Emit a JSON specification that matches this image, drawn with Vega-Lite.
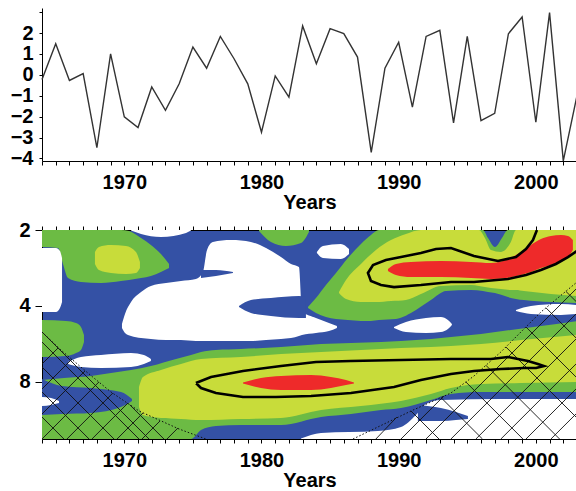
{
"$schema": "https://vega.github.io/schema/vega-lite/v6.json",
"padding": {"left": 10, "top": 2, "right": 0, "bottom": 0},
"background": "white",
"spacing": 8,
"config": {
  "font": "Liberation Sans",
  "view": {"stroke": null},
  "axis": {"labelFont": "Liberation Sans", "labelFontSize": 20, "labelFontWeight": "bold", "labelColor": "black", "titleFont": "Liberation Sans", "titleFontSize": 20, "titleFontWeight": "bold", "titleColor": "black", "domainColor": "black", "tickColor": "black", "grid": false, "labelOverlap": false, "labelFlush": false}
},
"datasets": {
  "series": [
    {"year":1964,"value":-0.22},{"year":1965,"value":1.49},{"year":1966,"value":-0.27},{"year":1967,"value":0.06},{"year":1968,"value":-3.49},
    {"year":1969,"value":1.0},{"year":1970,"value":-2.01},{"year":1971,"value":-2.52},{"year":1972,"value":-0.58},{"year":1973,"value":-1.7},
    {"year":1974,"value":-0.43},{"year":1975,"value":1.33},{"year":1976,"value":0.32},{"year":1977,"value":1.84},{"year":1978,"value":0.77},
    {"year":1979,"value":-0.43},{"year":1980,"value":-2.75},{"year":1981,"value":-0.05},{"year":1982,"value":-1.07},{"year":1983,"value":2.34},
    {"year":1984,"value":0.53},{"year":1985,"value":2.21},{"year":1986,"value":1.97},{"year":1987,"value":0.85},{"year":1988,"value":-3.71},
    {"year":1989,"value":0.32},{"year":1990,"value":1.56},{"year":1991,"value":-1.55},{"year":1992,"value":1.84},{"year":1993,"value":2.13},
    {"year":1994,"value":-2.3},{"year":1995,"value":1.84},{"year":1996,"value":-2.19},{"year":1997,"value":-1.84},{"year":1998,"value":1.97},
    {"year":1999,"value":2.77},{"year":2000,"value":-2.27},{"year":2001,"value":2.98},{"year":2002,"value":-4.12},{"year":2003,"value":-0.99}
  ],
  "green": [
    {"id":"g1","x":1964.00,"t":2,"b":2.335},{"id":"g1","x":1965.17,"t":2,"b":2.357},{"id":"g1","x":1965.53,"t":2,"b":2.727},{"id":"g1","x":1965.90,"t":2,"b":3.100},{"id":"g1","x":1966.84,"t":2,"b":3.215},{"id":"g1","x":1968.30,"t":2,"b":3.245},{"id":"g1","x":1969.76,"t":2,"b":3.186},{"id":"g1","x":1970.34,"t":2.018,"b":3.157},{"id":"g1","x":1971.22,"t":2.151,"b":3.100},{"id":"g1","x":1971.94,"t":2.293,"b":3.044},{"id":"g1","x":1972.67,"t":2.489,"b":2.934},{"id":"g1","x":1973.26,"t":2.727,"b":2.829},
    {"id":"g2","x":1979.82,"t":2,"b":2.018},{"id":"g2","x":1980.69,"t":2,"b":2.231},{"id":"g2","x":1981.78,"t":2,"b":2.314},{"id":"g2","x":1982.88,"t":2,"b":2.252},{"id":"g2","x":1983.46,"t":2,"b":2.037},
    {"id":"g3","x":1983.39,"t":4.041,"b":4.078},{"id":"g3","x":1983.97,"t":3.722,"b":4.264},{"id":"g3","x":1984.70,"t":3.305,"b":4.422},{"id":"g3","x":1985.43,"t":2.961,"b":4.504},{"id":"g3","x":1986.30,"t":2.582,"b":4.545},{"id":"g3","x":1987.25,"t":2.272,"b":4.586},{"id":"g3","x":1987.98,"t":2.093,"b":4.586},{"id":"g3","x":1988.56,"t":2,"b":4.545},{"id":"g3","x":1989.80,"t":2,"b":4.504},{"id":"g3","x":1991.26,"t":2,"b":4.149},{"id":"g3","x":1992.35,"t":2,"b":3.790},{"id":"g3","x":1993.45,"t":2,"b":3.491},{"id":"g3","x":1995.27,"t":2,"b":3.459},{"id":"g3","x":1996.14,"t":2,"b":3.491},{"id":"g3","x":1996.51,"t":2.151,"b":3.523},{"id":"g3","x":1997.02,"t":2.335,"b":3.555},{"id":"g3","x":1997.53,"t":2.151,"b":3.621},{"id":"g3","x":1997.96,"t":2,"b":3.688},{"id":"g3","x":1999.13,"t":2,"b":3.790},{"id":"g3","x":2001.10,"t":2,"b":3.860},{"id":"g3","x":2003.00,"t":2,"b":3.896},
    {"id":"g4","x":1964.00,"t":7.855,"b":13.455},{"id":"g4","x":1965.60,"t":7.713,"b":13.455},{"id":"g4","x":1967.57,"t":7.574,"b":13.455},{"id":"g4","x":1969.03,"t":7.370,"b":13.455},{"id":"g4","x":1970.49,"t":7.171,"b":13.455},{"id":"g4","x":1971.94,"t":6.914,"b":13.455},{"id":"g4","x":1973.77,"t":6.486,"b":13.455},{"id":"g4","x":1974.86,"t":6.253,"b":13.455},{"id":"g4","x":1975.59,"t":6.085,"b":12.394},{"id":"g4","x":1976.68,"t":5.975,"b":11.950},{"id":"g4","x":1978.50,"t":5.921,"b":11.842},{"id":"g4","x":1981.42,"t":5.814,"b":11.842},{"id":"g4","x":1984.34,"t":5.657,"b":11.009},{"id":"g4","x":1986.52,"t":5.607,"b":10.712},{"id":"g4","x":1988.71,"t":5.556,"b":10.328},{"id":"g4","x":1990.17,"t":5.506,"b":10.142},{"id":"g4","x":1992.35,"t":5.406,"b":9.427},{"id":"g4","x":1993.81,"t":5.308,"b":8.925},{"id":"g4","x":1996.00,"t":5.164,"b":8.764},{"id":"g4","x":1998.18,"t":4.979,"b":8.764},{"id":"g4","x":2000.37,"t":4.800,"b":8.764},{"id":"g4","x":2003.00,"t":4.586,"b":8.764},
    {"id":"g5","x":1964.00,"t":4.545,"b":6.368},{"id":"g5","x":1965.75,"t":4.586,"b":6.311},{"id":"g5","x":1966.48,"t":4.671,"b":6.140},{"id":"g5","x":1966.84,"t":4.845,"b":5.975},{"id":"g5","x":1967.06,"t":5.212,"b":5.556}
  ],
  "yellow": [
    {"id":"y1","x":1967.86,"t":2.444,"b":2.727},{"id":"y1","x":1968.15,"t":2.335,"b":2.881},{"id":"y1","x":1969.03,"t":2.293,"b":2.961},{"id":"y1","x":1970.12,"t":2.314,"b":2.989},{"id":"y1","x":1970.85,"t":2.444,"b":2.961},{"id":"y1","x":1971.14,"t":2.678,"b":2.829},
    {"id":"y3","x":1985.65,"t":3.523,"b":3.555},{"id":"y3","x":1986.16,"t":3.157,"b":3.756},{"id":"y3","x":1987.25,"t":2.727,"b":3.860},{"id":"y3","x":1988.34,"t":2.400,"b":3.860},{"id":"y3","x":1989.44,"t":2.191,"b":3.825},{"id":"y3","x":1990.53,"t":2.074,"b":3.790},{"id":"y3","x":1991.62,"t":2,"b":3.588},{"id":"y3","x":1993.08,"t":2,"b":3.335},{"id":"y3","x":1995.27,"t":2,"b":3.305},{"id":"y3","x":1995.85,"t":2,"b":3.335},{"id":"y3","x":1996.29,"t":2.151,"b":3.366},{"id":"y3","x":1996.73,"t":2.400,"b":3.396},{"id":"y3","x":1997.45,"t":2.444,"b":3.428},{"id":"y3","x":1998.18,"t":2.231,"b":3.459},{"id":"y3","x":1998.55,"t":2,"b":3.459},{"id":"y3","x":1999.13,"t":2,"b":3.491},{"id":"y3","x":2001.10,"t":2,"b":3.588},{"id":"y3","x":2003.00,"t":2,"b":3.654},
    {"id":"y4","x":1971.07,"t":8.373,"b":10.050},{"id":"y4","x":1971.36,"t":7.643,"b":10.810},{"id":"y4","x":1972.67,"t":7.171,"b":11.110},{"id":"y4","x":1974.13,"t":6.789,"b":11.211},{"id":"y4","x":1975.59,"t":6.486,"b":11.314},{"id":"y4","x":1978.50,"t":6.368,"b":11.211},{"id":"y4","x":1981.42,"t":6.197,"b":11.110},{"id":"y4","x":1984.34,"t":6.085,"b":10.328},{"id":"y4","x":1987.25,"t":5.975,"b":9.958},{"id":"y4","x":1990.17,"t":5.867,"b":9.514},{"id":"y4","x":1992.35,"t":5.814,"b":8.925},{"id":"y4","x":1993.81,"t":5.761,"b":8.450},{"id":"y4","x":1996.00,"t":5.657,"b":8.147},{"id":"y4","x":1998.91,"t":5.456,"b":8.073},{"id":"y4","x":2003.00,"t":5.212,"b":8.000}
  ],
  "red": [
    {"id":"r3","x":1989.22,"t":2.855,"b":2.908},{"id":"r3","x":1989.80,"t":2.727,"b":3.016},{"id":"r3","x":1990.90,"t":2.678,"b":3.072},{"id":"r3","x":1993.08,"t":2.654,"b":3.072},{"id":"r3","x":1995.27,"t":2.678,"b":3.100},{"id":"r3","x":1996.73,"t":2.703,"b":3.128},{"id":"r3","x":1997.82,"t":2.630,"b":3.100},{"id":"r3","x":1998.91,"t":2.444,"b":3.016},{"id":"r3","x":1999.64,"t":2.293,"b":2.934},{"id":"r3","x":2000.37,"t":2.171,"b":2.829},{"id":"r3","x":2001.10,"t":2.113,"b":2.752},{"id":"r3","x":2001.83,"t":2.093,"b":2.654},{"id":"r3","x":2002.34,"t":2.113,"b":2.559},{"id":"r3","x":2002.70,"t":2.191,"b":2.400},
    {"id":"r4","x":1978.65,"t":8.04,"b":8.11},{"id":"r4","x":1979.96,"t":7.713,"b":8.450},{"id":"r4","x":1981.42,"t":7.574,"b":8.605},{"id":"r4","x":1983.61,"t":7.505,"b":8.605},{"id":"r4","x":1985.06,"t":7.643,"b":8.450},{"id":"r4","x":1986.16,"t":7.855,"b":8.222},{"id":"r4","x":1986.74,"t":8.04,"b":8.11}
  ],
  "blueover": [
    {"id":"b1","x":1964.00,"t":7.784,"b":10.810},{"id":"b1","x":1965.46,"t":8.297,"b":10.712},{"id":"b1","x":1967.57,"t":8.450,"b":10.614},{"id":"b1","x":1969.76,"t":8.764,"b":10.050},{"id":"b1","x":1970.56,"t":9.341,"b":9.514}
  ],
  "white": [
    {"id":"w1","x":1964.00,"t":2.357,"b":4.225},{"id":"w1","x":1965.02,"t":2.357,"b":4.225},{"id":"w1","x":1965.31,"t":2.422,"b":4.078},{"id":"w1","x":1965.46,"t":2.582,"b":3.860},
    {"id":"w2","x":1970.49,"t":2,"b":2.01},{"id":"w2","x":1971.22,"t":2,"b":2.074},{"id":"w2","x":1972.67,"t":2,"b":2.132},{"id":"w2","x":1974.50,"t":2,"b":2.055},{"id":"w2","x":1974.86,"t":2,"b":2.01},
    {"id":"w3","x":1969.83,"t":4.714,"b":4.889},{"id":"w3","x":1970.05,"t":4.303,"b":5.117},{"id":"w3","x":1970.49,"t":3.860,"b":5.260},{"id":"w3","x":1971.22,"t":3.523,"b":5.357},{"id":"w3","x":1971.94,"t":3.335,"b":5.406},{"id":"w3","x":1973.04,"t":3.245,"b":5.456},{"id":"w3","x":1974.13,"t":3.186,"b":5.456},{"id":"w3","x":1975.22,"t":3.128,"b":5.506},{"id":"w3","x":1975.73,"t":2.934,"b":5.506},{"id":"w3","x":1976.03,"t":2.400,"b":5.506},{"id":"w3","x":1976.46,"t":2.231,"b":5.506},{"id":"w3","x":1977.78,"t":2.191,"b":5.506},{"id":"w3","x":1979.23,"t":2.231,"b":5.506},{"id":"w3","x":1980.33,"t":2.357,"b":5.456},{"id":"w3","x":1981.42,"t":2.559,"b":5.406},{"id":"w3","x":1982.15,"t":2.727,"b":5.357},{"id":"w3","x":1982.73,"t":2.803,"b":5.260},{"id":"w3","x":1982.95,"t":4.200,"b":5.212},{"id":"w3","x":1983.97,"t":4.463,"b":5.117},{"id":"w3","x":1984.92,"t":4.671,"b":5.025},{"id":"w3","x":1985.50,"t":4.800,"b":4.889},
    {"id":"w4","x":1984.04,"t":2.444,"b":2.467},{"id":"w4","x":1984.48,"t":2.314,"b":2.582},{"id":"w4","x":1985.79,"t":2.272,"b":2.606},{"id":"w4","x":1986.38,"t":2.379,"b":2.489},
    {"id":"w5","x":1989.66,"t":4.845,"b":4.889},{"id":"w5","x":1990.53,"t":4.628,"b":5.071},{"id":"w5","x":1991.99,"t":4.463,"b":5.117},{"id":"w5","x":1993.08,"t":4.422,"b":5.071},{"id":"w5","x":1993.59,"t":4.545,"b":4.934},{"id":"w5","x":1993.88,"t":4.714,"b":4.757},
    {"id":"w6","x":1998.55,"t":4.149,"b":4.187},{"id":"w6","x":1999.64,"t":4.000,"b":4.303},{"id":"w6","x":2001.83,"t":3.932,"b":4.342},{"id":"w6","x":2003.00,"t":3.968,"b":4.303},
    {"id":"w7","x":1965.90,"t":6.666,"b":6.789},{"id":"w7","x":1966.84,"t":6.368,"b":6.977},{"id":"w7","x":1968.30,"t":6.253,"b":7.041},{"id":"w7","x":1970.49,"t":6.140,"b":6.977},{"id":"w7","x":1971.43,"t":6.253,"b":6.789},{"id":"w7","x":1971.94,"t":6.486,"b":6.605},
    {"id":"w8","x":1964.00,"t":9.173,"b":9.958},{"id":"w8","x":1964.66,"t":9.257,"b":9.868},{"id":"w8","x":1965.24,"t":9.514,"b":9.689},
    {"id":"w9","x":1982.88,"t":13.39,"b":13.455},{"id":"w9","x":1984.34,"t":12.738,"b":13.455},{"id":"w9","x":1988.49,"t":12.508,"b":13.455},{"id":"w9","x":1990.17,"t":12.060,"b":13.455},{"id":"w9","x":1991.26,"t":10.810,"b":13.455},{"id":"w9","x":1991.99,"t":9.778,"b":13.455},{"id":"w9","x":1993.08,"t":9.427,"b":13.455},{"id":"w9","x":1997.45,"t":9.341,"b":13.455},{"id":"w9","x":2003.00,"t":9.341,"b":13.455}
  ],
  "bluetop": [
    {"id":"t1","x":1978.36,"t":4.004,"b":4.041},{"id":"t1","x":1979.23,"t":3.790,"b":4.264},{"id":"t1","x":1980.69,"t":3.722,"b":4.382},{"id":"t1","x":1982.73,"t":3.654,"b":4.463},{"id":"t1","x":1983.24,"t":3.688,"b":4.463},
    {"id":"t2","x":1975.59,"t":2.881,"b":3.100},{"id":"t2","x":1976.68,"t":2.881,"b":3.044},{"id":"t2","x":1977.92,"t":2.934,"b":2.961},
    {"id":"t3","x":1991.40,"t":9.868,"b":11.418},{"id":"t3","x":1993.08,"t":10.142,"b":11.418},{"id":"t3","x":1994.17,"t":10.518,"b":11.314},{"id":"t3","x":1995.05,"t":10.909,"b":11.211}
  ],
  "hatch": [
    {"x":1964.00,"t":5.556,"x2":1971.07,"b":13.455},{"x":1964.00,"t":6.977,"x2":1969.25,"b":13.455},{"x":1964.00,"t":8.764,"x2":1967.43,"b":13.455},{"x":1964.00,"t":11.009,"x2":1965.60,"b":13.455},{"x":1964.00,"t":5.071,"x2":1971.80,"b":13.455},{"x":1970.39,"t":9.84,"x2":1972.89,"b":13.455},
    {"x":1964.00,"t":13.455,"x2":1968.15,"b":8.000},{"x":1965.82,"t":13.455,"x2":1969.17,"b":8.844},{"x":1967.64,"t":13.455,"x2":1970.27,"b":9.689},{"x":1969.47,"t":13.455,"x2":1971.36,"b":10.614},{"x":1971.29,"t":13.455,"x2":1972.60,"b":11.418},{"x":1973.11,"t":13.455,"x2":1973.91,"b":12.170},{"x":1964.00,"t":10.712,"x2":1967.13,"b":7.236},{"x":1964.00,"t":8.527,"x2":1966.19,"b":6.486},{"x":1964.00,"t":6.789,"x2":1965.17,"b":5.867},
    {"x":1988.34,"t":13.455,"x2":1989.87,"b":11.009},{"x":1990.17,"t":13.455,"x2":1993.30,"b":9.089},{"x":1991.99,"t":13.455,"x2":2003.00,"b":3.396},{"x":1993.81,"t":13.455,"x2":2003.00,"b":4.264},{"x":1995.63,"t":13.455,"x2":2003.00,"b":5.357},{"x":1997.45,"t":13.455,"x2":2003.00,"b":6.727},{"x":1999.28,"t":13.455,"x2":2003.00,"b":8.450},{"x":2001.10,"t":13.455,"x2":2003.00,"b":10.614},
    {"x":1990.90,"t":10.423,"x2":1992.94,"b":13.455},{"x":1993.08,"t":9.215,"x2":1996.11,"b":13.455},{"x":1994.90,"t":8.000,"x2":1999.06,"b":13.455},{"x":1996.36,"t":6.87,"x2":2001.73,"b":13.455},{"x":1997.82,"t":5.814,"x2":2003.00,"b":11.110},{"x":1999.28,"t":4.845,"x2":2003.00,"b":7.713},{"x":2000.74,"t":4.07,"x2":2003.00,"b":5.40},{"x":2002.19,"t":3.50,"x2":2003.00,"b":3.87}
  ],
  "coi": [
    {"id":"l","o":1,"x":1964.00,"t":5.071},{"id":"l","o":2,"x":1965.38,"t":5.975},{"id":"l","o":3,"x":1967.43,"t":7.437},{"id":"l","o":4,"x":1969.03,"t":8.764},{"id":"l","o":5,"x":1971.07,"t":10.423},{"id":"l","o":6,"x":1973.99,"t":12.282},{"id":"l","o":7,"x":1975.95,"t":13.455},
    {"id":"r","o":1,"x":1986.67,"t":13.455},{"id":"r","o":2,"x":1990.90,"t":10.423},{"id":"r","o":3,"x":1993.81,"t":8.844},{"id":"r","o":4,"x":1995.49,"t":7.574},{"id":"r","o":5,"x":1997.45,"t":6.085},{"id":"r","o":6,"x":2000.37,"t":4.225},{"id":"r","o":7,"x":2003.00,"t":3.215}
  ],
  "contour": [
    {"id":"c1","o":1,"x":2000.08,"t":2.000},{"id":"c1","o":2,"x":1999.79,"t":2.191},{"id":"c1","o":3,"x":1999.28,"t":2.379},{"id":"c1","o":4,"x":1998.55,"t":2.559},{"id":"c1","o":5,"x":1997.24,"t":2.654},{"id":"c1","o":6,"x":1995.49,"t":2.535},{"id":"c1","o":7,"x":1993.81,"t":2.357},{"id":"c1","o":8,"x":1992.72,"t":2.379},{"id":"c1","o":9,"x":1991.62,"t":2.467},{"id":"c1","o":10,"x":1990.17,"t":2.559},{"id":"c1","o":11,"x":1989.07,"t":2.630},{"id":"c1","o":12,"x":1988.13,"t":2.752},{"id":"c1","o":13,"x":1987.76,"t":2.961},{"id":"c1","o":14,"x":1987.98,"t":3.186},{"id":"c1","o":15,"x":1988.71,"t":3.305},{"id":"c1","o":16,"x":1989.66,"t":3.366},{"id":"c1","o":17,"x":1991.62,"t":3.305},{"id":"c1","o":18,"x":1993.81,"t":3.215},{"id":"c1","o":19,"x":1995.49,"t":3.215},{"id":"c1","o":20,"x":1997.96,"t":3.128},{"id":"c1","o":21,"x":1999.28,"t":3.016},{"id":"c1","o":22,"x":2000.37,"t":2.881},{"id":"c1","o":23,"x":2001.46,"t":2.727},{"id":"c1","o":24,"x":2002.34,"t":2.559},{"id":"c1","o":25,"x":2003.00,"t":2.422},
    {"id":"c2","o":1,"x":1975.22,"t":8.073},{"id":"c2","o":2,"x":1976.32,"t":7.643},{"id":"c2","o":3,"x":1978.65,"t":7.236},{"id":"c2","o":4,"x":1981.42,"t":6.914},{"id":"c2","o":5,"x":1983.97,"t":6.666},{"id":"c2","o":6,"x":1986.52,"t":6.605},{"id":"c2","o":7,"x":1990.17,"t":6.545},{"id":"c2","o":8,"x":1993.81,"t":6.486},{"id":"c2","o":9,"x":1996.73,"t":6.486},{"id":"c2","o":10,"x":1997.96,"t":6.368},{"id":"c2","o":11,"x":1999.42,"t":6.605},{"id":"c2","o":12,"x":2000.15,"t":6.789},{"id":"c2","o":13,"x":2000.59,"t":6.914},{"id":"c2","o":14,"x":2000.01,"t":7.041},{"id":"c2","o":15,"x":1999.13,"t":7.041},{"id":"c2","o":16,"x":1997.45,"t":7.106},{"id":"c2","o":17,"x":1995.49,"t":7.236},{"id":"c2","o":18,"x":1993.81,"t":7.437},{"id":"c2","o":19,"x":1991.62,"t":7.855},{"id":"c2","o":20,"x":1989.66,"t":8.373},{"id":"c2","o":21,"x":1986.52,"t":8.844},{"id":"c2","o":22,"x":1983.61,"t":9.089},{"id":"c2","o":23,"x":1981.06,"t":9.173},{"id":"c2","o":24,"x":1978.65,"t":9.173},{"id":"c2","o":25,"x":1976.68,"t":8.844},{"id":"c2","o":26,"x":1975.59,"t":8.450},{"id":"c2","o":27,"x":1975.22,"t":8.073}
  ]
},
"vconcat": [
  {
    "width": 535, "height": 153,
    "view": {"stroke": null},
    "data": {"name": "series"},
    "mark": {"type": "line", "color": "#333333", "strokeWidth": 1.4},
    "encoding": {
      "x": {"field": "year", "type": "quantitative", "scale": {"domain": [1964, 2003], "nice": false, "zero": false},
        "axis": {"values": [1964,1965,1966,1967,1968,1969,1970,1971,1972,1973,1974,1975,1976,1977,1978,1979,1980,1981,1982,1983,1984,1985,1986,1987,1988,1989,1990,1991,1992,1993,1994,1995,1996,1997,1998,1999,2000,2001,2002,2003], "format": "d", "labelExpr": "datum.value % 10 == 0 ? datum.label : ''", "tickSize": 4, "labelPadding": 7, "title": "Years", "titlePadding": 0}},
      "y": {"field": "value", "type": "quantitative", "scale": {"domain": [-4.125, 3.2], "nice": false, "zero": false},
        "axis": {"values": [-4,-3.5,-3,-2.5,-2,-1.5,-1,-0.5,0,0.5,1,1.5,2,2.5,3], "format": "d", "labelExpr": "(datum.value % 1 == 0 && datum.value < 3) ? datum.label : ''", "tickSize": 3, "labelPadding": 6, "title": null}}
    }
  },
  {
    "width": 535, "height": 209,
    "view": {"fill": "#3451a5", "stroke": null},
    "resolve": {"axis": {"x": "independent"}},
    "encoding": {
      "x": {"field": "x", "type": "quantitative", "scale": {"domain": [1964, 2003], "nice": false, "zero": false}, "axis": null},
      "y": {"field": "t", "type": "quantitative", "scale": {"type": "log", "base": 2, "domain": [2, 13.455], "reverse": true, "nice": false},
        "axis": {"values": [2, 4, 8], "format": "d", "tickSize": 7, "labelPadding": 5, "title": null}}
    },
    "layer": [
      {"data": {"name": "green"}, "mark": {"type": "area", "color": "#6cbb44", "interpolate": "monotone", "clip": true},
        "encoding": {"y2": {"field": "b"}, "detail": {"field": "id"},
          "x": {"field": "x", "type": "quantitative", "scale": {"domain": [1964, 2003], "nice": false, "zero": false},
            "axis": {"orient": "bottom", "values": [1964,1965,1966,1967,1968,1969,1970,1971,1972,1973,1974,1975,1976,1977,1978,1979,1980,1981,1982,1983,1984,1985,1986,1987,1988,1989,1990,1991,1992,1993,1994,1995,1996,1997,1998,1999,2000,2001,2002,2003], "format": "d", "labelExpr": "datum.value % 10 == 0 ? datum.label : ''", "tickSize": 4, "labelPadding": 7, "title": "Years", "titlePadding": 0}}}},
      {"data": {"name": "yellow"}, "mark": {"type": "area", "color": "#c8dc3a", "interpolate": "monotone", "clip": true},
        "encoding": {"y2": {"field": "b"}, "detail": {"field": "id"}}},
      {"data": {"name": "red"}, "mark": {"type": "area", "color": "#ee2a2a", "interpolate": "monotone", "clip": true},
        "encoding": {"y2": {"field": "b"}, "detail": {"field": "id"}}},
      {"data": {"name": "blueover"}, "mark": {"type": "area", "color": "#3451a5", "interpolate": "monotone", "clip": true},
        "encoding": {"y2": {"field": "b"}, "detail": {"field": "id"}}},
      {"data": {"name": "white"}, "mark": {"type": "area", "color": "#ffffff", "interpolate": "monotone", "clip": true},
        "encoding": {"y2": {"field": "b"}, "detail": {"field": "id"}}},
      {"data": {"name": "bluetop"}, "mark": {"type": "area", "color": "#3451a5", "interpolate": "monotone", "clip": true},
        "encoding": {"y2": {"field": "b"}, "detail": {"field": "id"}}},
      {"data": {"name": "hatch"}, "mark": {"type": "rule", "color": "#111111", "strokeWidth": 0.9, "clip": true},
        "encoding": {"x2": {"field": "x2"}, "y2": {"field": "b"}}},
      {"data": {"name": "coi"}, "mark": {"type": "line", "color": "#111111", "strokeWidth": 1, "strokeDash": [1.5, 2], "clip": true},
        "encoding": {"detail": {"field": "id"}, "order": {"field": "o"}}},
      {"data": {"name": "contour"}, "mark": {"type": "line", "color": "#000000", "strokeWidth": 2.6, "clip": true},
        "encoding": {"detail": {"field": "id"}, "order": {"field": "o"},
          "x": {"field": "x", "type": "quantitative", "scale": {"domain": [1964, 2003], "nice": false, "zero": false},
            "axis": {"orient": "top", "values": [1964,1965,1966,1967,1968,1969,1970,1971,1972,1973,1974,1975,1976,1977,1978,1979,1980,1981,1982,1983,1984,1985,1986,1987,1988,1989,1990,1991,1992,1993,1994,1995,1996,1997,1998,1999,2000,2001,2002,2003], "labels": false, "tickSize": 4, "title": null}}}}
    ]
  }
]
}
